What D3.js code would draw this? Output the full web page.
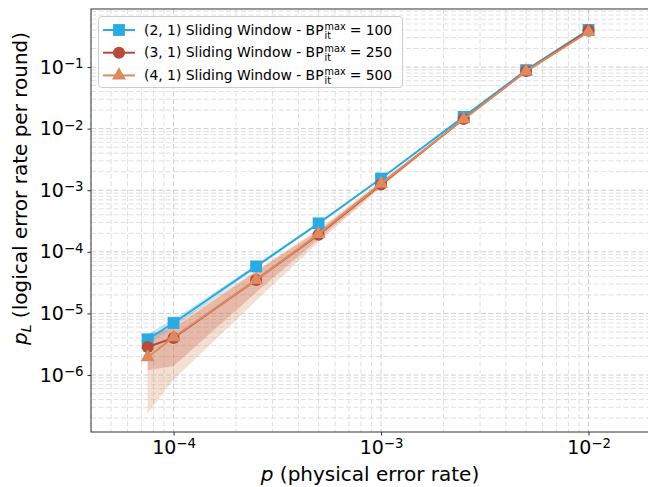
<!DOCTYPE html>
<html>
<head>
<meta charset="utf-8">
<script src="https://cdn.jsdelivr.net/npm/d3@7"></script>
<style>
  body { margin: 0; background: #fff; }
  svg { display: block; font-family: "DejaVu Sans", sans-serif; }
</style>
</head>
<body>
<svg width="648" height="487"></svg>
<script>
// physical error rates (x)
const pPhys = [7.5e-5, 1e-4, 2.5e-4, 5e-4, 1e-3, 2.5e-3, 5e-3, 1e-2];

// (2,1) sliding window, BP max 100
const sw21   = [3.8e-6, 7.0e-6, 5.8e-5, 2.9e-4, 1.55e-3, 1.55e-2, 8.9e-2, 0.40];
const sw21Lo = [3.1e-6, 6.1e-6, 5.4e-5, 2.8e-4, 1.52e-3, 1.54e-2, 8.85e-2, 0.398];
const sw21Hi = [4.7e-6, 8.0e-6, 6.2e-5, 3.0e-4, 1.58e-3, 1.56e-2, 8.95e-2, 0.402];

// (3,1) sliding window, BP max 250
const sw31   = [2.85e-6, 4.0e-6, 3.5e-5, 1.9e-4, 1.24e-3, 1.43e-2, 8.6e-2, 0.39];
const sw31Lo = [1.2e-6, 1.4e-6, 2.2e-5, 1.6e-4, 1.15e-3, 1.41e-2, 8.55e-2, 0.388];
const sw31Hi = [4.6e-6, 5.8e-6, 4.8e-5, 2.2e-4, 1.34e-3, 1.45e-2, 8.65e-2, 0.392];

// (4,1) sliding window, BP max 500
const sw41   = [1.95e-6, 4.1e-6, 3.5e-5, 1.95e-4, 1.28e-3, 1.42e-2, 8.5e-2, 0.37];
const sw41Lo = [2.4e-7, 8.5e-7, 1.6e-5, 1.45e-4, 1.1e-3, 1.39e-2, 8.45e-2, 0.368];
const sw41Hi = [3.2e-6, 6.6e-6, 5.0e-5, 2.35e-4, 1.43e-3, 1.45e-2, 8.55e-2, 0.372];

const xTicks = [1e-4, 1e-3, 1e-2];
const yTicks = [1e-6, 1e-5, 1e-4, 1e-3, 1e-2, 1e-1];

const series = [
  {name: "(2, 1) Sliding Window - BP", bp: "100", y: sw21, lo: sw21Lo, hi: sw21Hi, color: "#29abe2", marker: d3.symbolSquare, size: 140},
  {name: "(3, 1) Sliding Window - BP", bp: "250", y: sw31, lo: sw31Lo, hi: sw31Hi, color: "#b84a3b", marker: d3.symbolCircle, size: 115},
  {name: "(4, 1) Sliding Window - BP", bp: "500", y: sw41, lo: sw41Lo, hi: sw41Hi, color: "#dc8a5f", marker: d3.symbolTriangle, size: 85}
];

const svg = d3.select("svg");
const area = {left: 91, right: 651, top: 9, bottom: 432};

const scX = d3.scaleLog().domain([4e-5, 2e-2]).range([area.left, area.right]);
const scY = d3.scaleLog().domain([1.19e-7, 0.875]).range([area.bottom, area.top]);

// minor tick positions inside the domain
function minors(sc, lo, hi) {
  const out = [];
  for (let e = lo; e <= hi; e++)
    for (let m = 2; m <= 9; m++) {
      const v = m * Math.pow(10, e);
      const [a, b] = sc.domain();
      if (v >= a && v <= b) out.push(v);
    }
  return out;
}
const xMinor = minors(scX, -5, -2);
const yMinor = minors(scY, -8, -1);

// grid
const grid = svg.append("g");
xMinor.forEach(v => grid.append("line")
  .attr("x1", scX(v)).attr("x2", scX(v)).attr("y1", area.top).attr("y2", area.bottom)
  .attr("stroke", "#e0e0e0").attr("stroke-dasharray", "5,2.5"));
yMinor.forEach(v => grid.append("line")
  .attr("y1", scY(v)).attr("y2", scY(v)).attr("x1", area.left).attr("x2", area.right)
  .attr("stroke", "#e0e0e0").attr("stroke-dasharray", "5,2.5"));
xTicks.forEach(v => grid.append("line")
  .attr("x1", scX(v)).attr("x2", scX(v)).attr("y1", area.top).attr("y2", area.bottom)
  .attr("stroke", "#cfcfcf").attr("stroke-dasharray", "5,2.5"));
d3.range(-7, 0).map(e => Math.pow(10, e)).filter(v => v >= scY.domain()[0]).forEach(v => grid.append("line")
  .attr("y1", scY(v)).attr("y2", scY(v)).attr("x1", area.left).attr("x2", area.right)
  .attr("stroke", "#cfcfcf").attr("stroke-dasharray", "5,2.5"));

// error bands
const band = d3.area()
  .x((d, i) => scX(pPhys[i]))
  .y0(d => scY(d[0]))
  .y1(d => scY(d[1]));
series.forEach(s => {
  svg.append("path")
    .attr("d", band(s.lo.map((v, i) => [v, s.hi[i]])))
    .attr("fill", s.color)
    .attr("fill-opacity", 0.28);
});

// lines and markers
const line = d3.line().x((d, i) => scX(pPhys[i])).y(d => scY(d));
series.forEach(s => {
  svg.append("path")
    .attr("d", line(s.y))
    .attr("fill", "none")
    .attr("stroke", s.color)
    .attr("stroke-width", 2);
  svg.selectAll(null)
    .data(s.y)
    .enter()
    .append("path")
    .attr("d", d3.symbol().type(s.marker).size(s.size))
    .attr("transform", (d, i) => `translate(${scX(pPhys[i])},${scY(d)})`)
    .attr("fill", s.color);
});

// axes
const tickColor = "#333";
function superLabel(sel) {
  sel.each(function(d) {
    const t = d3.select(this).text(null);
    const e = Math.round(Math.log10(d));
    t.append("tspan").text("10");
    t.append("tspan").attr("dy", "-0.42em").attr("font-size", "13.3px").text("\u2212" + Math.abs(e));
  });
}

const gx = svg.append("g").attr("transform", `translate(0,${area.bottom})`);
gx.call(d3.axisBottom(scX).tickValues(xMinor).tickSize(2).tickFormat(""));
gx.call(d3.axisBottom(scX).tickValues(xTicks).tickSize(3.5).tickPadding(5));
gx.selectAll("text").attr("font-size", "19px").attr("fill", "#000")
  .attr("font-family", "DejaVu Sans").call(superLabel);

const gy = svg.append("g").attr("transform", `translate(${area.left},0)`);
gy.call(d3.axisLeft(scY).tickValues(yMinor).tickSize(2).tickFormat(""));
gy.call(d3.axisLeft(scY).tickValues(yTicks).tickSize(3.5).tickPadding(4));
gy.selectAll("text").attr("font-size", "19px").attr("fill", "#000")
  .attr("font-family", "DejaVu Sans").call(superLabel);

svg.selectAll(".domain").remove();
svg.selectAll(".tick line").attr("stroke", tickColor);

// frame
svg.append("rect")
  .attr("x", area.left).attr("y", area.top)
  .attr("width", area.right - area.left).attr("height", area.bottom - area.top)
  .attr("fill", "none").attr("stroke", tickColor).attr("stroke-width", 1);

// axis labels
const xl = svg.append("text")
  .attr("x", (area.left + area.right) / 2 - 1).attr("y", 481)
  .attr("text-anchor", "middle").attr("font-size", "20px");
xl.append("tspan").attr("font-style", "italic").text("p");
xl.append("tspan").text(" (physical error rate)");

const yl = svg.append("text")
  .attr("transform", "translate(27,345) rotate(-90)")
  .attr("font-size", "20px");
yl.append("tspan").attr("font-style", "italic").text("p");
yl.append("tspan").attr("font-style", "italic").attr("font-size", "14px").attr("dy", "4").text("L");
yl.append("tspan").attr("dy", "-4").text(" (logical error rate per round)");

// legend
const lg = svg.append("g");
lg.append("rect")
  .attr("x", 98.5).attr("y", 16.5).attr("width", 304).attr("height", 71).attr("rx", 3)
  .attr("fill", "#fff").attr("fill-opacity", 0.85).attr("stroke", "#ccc");
series.forEach((s, i) => {
  const cy = 30 + i * 22.7;
  lg.append("line").attr("x1", 103).attr("x2", 135).attr("y1", cy).attr("y2", cy)
    .attr("stroke", s.color).attr("stroke-width", 2);
  lg.append("path").attr("d", d3.symbol().type(s.marker).size(s.size))
    .attr("transform", `translate(119,${cy})`).attr("fill", s.color);
  const x0 = 144;
  const t = lg.append("text").attr("x", x0).attr("y", cy + 4.5).attr("font-size", "13.9px").text(s.name);
  const w = t.node().getComputedTextLength();
  // stacked super/subscript of BP
  const sup = lg.append("text").attr("x", x0 + w + 1).attr("y", cy - 0.5).attr("font-size", "9.7px").text("max");
  lg.append("text").attr("x", x0 + w + 1).attr("y", cy + 8.5).attr("font-size", "9.7px").text("it");
  const ws = sup.node().getComputedTextLength();
  lg.append("text").attr("x", x0 + w + ws + 5).attr("y", cy + 4.5).attr("font-size", "13.9px")
    .text("= " + s.bp);
});
</script>
</body>
</html>
